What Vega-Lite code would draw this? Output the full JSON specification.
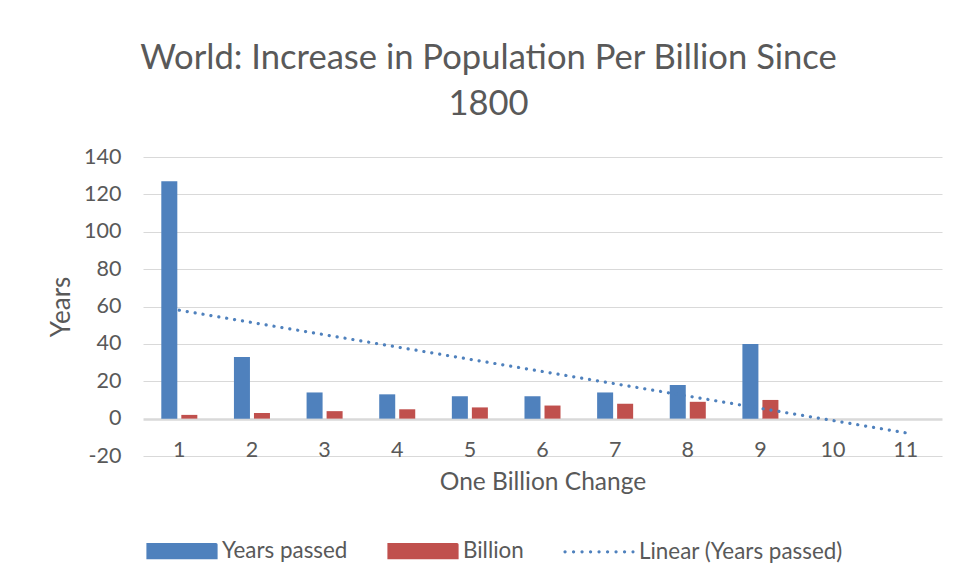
{
  "$schema": "https://vega.github.io/schema/vega-lite/v6.json",
  "width": 799,
  "height": 299,
  "autosize": {"type": "none"},
  "padding": {"left": 143, "top": 157, "right": 16, "bottom": 125},
  "background": "white",
  "config": {"font": "Lato", "view": {"stroke": null}},
  "title": {
    "text": ["World: Increase in Population Per Billion Since", "1800"],
    "fontSize": 34.6,
    "font": "Lato",
    "fontWeight": "normal",
    "color": "#595959",
    "anchor": "middle",
    "frame": "group",
    "dx": -54,
    "lineHeight": 46,
    "offset": 23
  },
  "datasets": {
    "bars": [
      {"change": 1, "series": "Years passed", "value": 127},
      {"change": 2, "series": "Years passed", "value": 33},
      {"change": 3, "series": "Years passed", "value": 14},
      {"change": 4, "series": "Years passed", "value": 13},
      {"change": 5, "series": "Years passed", "value": 12},
      {"change": 6, "series": "Years passed", "value": 12},
      {"change": 7, "series": "Years passed", "value": 14},
      {"change": 8, "series": "Years passed", "value": 18},
      {"change": 9, "series": "Years passed", "value": 40},
      {"change": 1, "series": "Billion", "value": 2},
      {"change": 2, "series": "Billion", "value": 3},
      {"change": 3, "series": "Billion", "value": 4},
      {"change": 4, "series": "Billion", "value": 5},
      {"change": 5, "series": "Billion", "value": 6},
      {"change": 6, "series": "Billion", "value": 7},
      {"change": 7, "series": "Billion", "value": 8},
      {"change": 8, "series": "Billion", "value": 9},
      {"change": 9, "series": "Billion", "value": 10}
    ],
    "trend": [
      {"change": 1, "series": "Linear (Years passed)", "value": 58},
      {"change": 11, "series": "Linear (Years passed)", "value": -7.6}
    ]
  },
  "layer": [
    {
      "data": {"name": "bars"},
      "mark": {"type": "bar"},
      "encoding": {
        "x": {
          "field": "change",
          "type": "ordinal",
          "title": "One Billion Change",
          "scale": {"domain": [1, 2, 3, 4, 5, 6, 7, 8, 9, 10, 11], "paddingInner": 0.504, "paddingOuter": 0.252},
          "axis": {
            "labelAngle": 0,
            "domain": false,
            "ticks": false,
            "grid": false,
            "labelPadding": -17,
            "labelFontSize": 21.5,
            "labelColor": "#595959",
            "labelFont": "Lato",
            "labelOverlap": false,
            "titleFontSize": 24.5,
            "titleFontWeight": "normal",
            "titleColor": "#595959",
            "titleFont": "Lato",
            "titlePadding": 10
          }
        },
        "xOffset": {
          "field": "series",
          "type": "nominal",
          "scale": {"domain": ["Years passed", "Billion"], "paddingInner": 0.2, "paddingOuter": 0}
        },
        "y": {
          "field": "value",
          "type": "quantitative",
          "title": "Years",
          "scale": {"domain": [-20, 140], "nice": false},
          "axis": {
            "values": [-20, 0, 20, 40, 60, 80, 100, 120, 140],
            "tickCount": 12,
            "labelExpr": "'' + datum.value",
            "labelOverlap": false,
            "domain": false,
            "ticks": false,
            "gridColor": "#D9D9D9",
            "gridWidth": {"condition": {"test": "datum.value === 0", "value": 2.5}, "value": 1.2},
            "labelPadding": 22,
            "labelFontSize": 21.5,
            "labelColor": "#595959",
            "labelFont": "Lato",
            "titleFontSize": 26,
            "titleFontWeight": "normal",
            "titleColor": "#595959",
            "titleFont": "Lato",
            "titlePadding": 9
          }
        },
        "color": {
          "field": "series",
          "type": "nominal",
          "scale": {
            "domain": ["Years passed", "Billion", "Linear (Years passed)"],
            "range": ["#4F81BD", "#C0504D", "#4F81BD"]
          },
          "legend": {
            "orient": "none",
            "legendX": 3,
            "legendY": 358,
            "direction": "horizontal",
            "title": null,
            "symbolSize": 4624,
            "labelFontSize": 22.4,
            "labelLimit": 0,
            "labelColor": "#595959",
            "labelFont": "Lato",
            "labelOffset": 4,
            "columnPadding": 34,
            "symbolStrokeWidth": 3,
            "encode": {
              "symbols": {
                "update": {
                  "shape": {"signal": "datum.value === 'Linear (Years passed)' ? 'stroke' : 'M-1,-0.19H1V0.19H-1Z'"},
                  "fill": {"signal": "datum.value === 'Linear (Years passed)' ? 'transparent' : scale('color', datum.value)"},
                  "stroke": {"signal": "datum.value === 'Linear (Years passed)' ? scale('color', datum.value) : 'transparent'"},
                  "strokeDash": {"signal": "datum.value === 'Linear (Years passed)' ? [0.1, 8.4] : [1, 0]"},
                  "strokeCap": {"value": "round"},
                  "strokeWidth": {"value": 3.2},
                  "opacity": {"value": 1}
                }
              }
            }
          }
        }
      }
    },
    {
      "data": {"name": "trend"},
      "mark": {"type": "line", "strokeWidth": 3.2, "strokeDash": [0.1, 7.9], "strokeCap": "round"},
      "encoding": {
        "x": {"field": "change", "type": "ordinal"},
        "y": {"field": "value", "type": "quantitative"},
        "color": {"field": "series", "type": "nominal"}
      }
    }
  ]
}
